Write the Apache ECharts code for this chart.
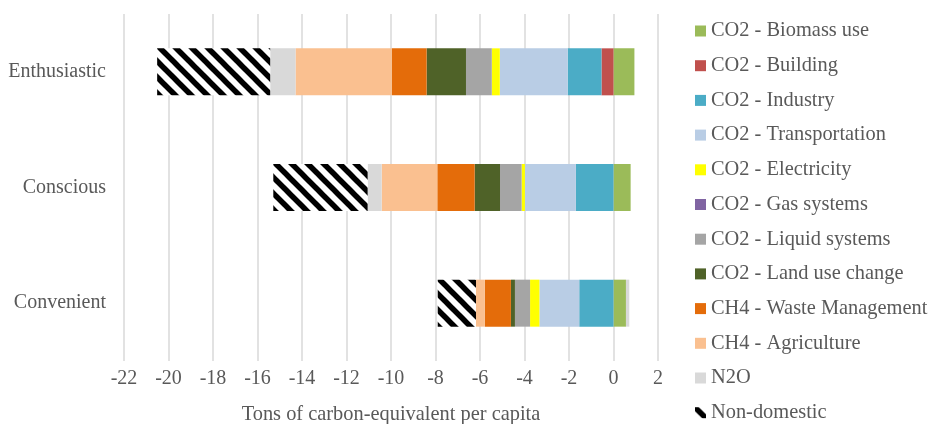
<!DOCTYPE html>
<html>
<head>
<meta charset="utf-8">
<script src="https://cdn.jsdelivr.net/npm/echarts@6/dist/echarts.min.js"></script>
<style>html,body{margin:0;padding:0;background:#fff}#c{width:937px;height:424px}</style>
</head>
<body>
<div id="c"></div>
<script>
const categories = ['Enthusiastic', 'Conscious', 'Convenient'];
const seriesNames = ['CO2 - Biomass use', 'CO2 - Building', 'CO2 - Industry', 'CO2 - Transportation',
  'CO2 - Electricity', 'CO2 - Gas systems', 'CO2 - Liquid systems', 'CO2 - Land use change',
  'CH4 - Waste Management', 'CH4 - Agriculture', 'N2O', 'Non-domestic'];
const biomass = [0.94, 0.77, 0.56];
const building = [-0.54, 0, 0];
const industry = [-1.52, -1.69, -1.54];
const transportation = [-3.05, -2.29, -1.79];
const electricity = [-0.36, -0.15, -0.42];
const gasSystems = [0, 0, 0];
const liquidSystems = [-1.16, -0.97, -0.68];
const landUse = [-1.77, -1.14, -0.18];
const waste = [-1.56, -1.68, -1.17];
const agriculture = [-4.33, -2.50, -0.40];
const n2o = [-1.14, -0.63, 0.15];
const nonDomestic = [-5.08, -4.24, -1.72];
const xTicks = { min: -22, max: 2, interval: 2 };

const seriesData = [biomass, building, industry, transportation, electricity, gasSystems,
  liquidSystems, landUse, waste, agriculture, n2o, nonDomestic];
const colors = ['#9BBB59', '#C0504D', '#4BACC6', '#B9CDE5', '#FFFF00', '#8064A2',
  '#A5A5A5', '#4F6228', '#E46C0A', '#FAC090', '#D9D9D9', null];

// diagonal stripe pattern
const tile = document.createElement('canvas');
tile.width = 16; tile.height = 16;
const g = tile.getContext('2d');
g.fillStyle = '#fff'; g.fillRect(0, 0, 16, 16);
g.strokeStyle = '#000'; g.lineWidth = 5.5;
for (let k = -2; k <= 2; k++) {
  g.beginPath();
  g.moveTo(k * 16 - 8, -8);
  g.lineTo(k * 16 + 24, 24);
  g.stroke();
}
const stripe = { image: tile, repeat: 'repeat' };

const font = 'Liberation Serif';
const txt = '#595959';

const chart = echarts.init(document.getElementById('c'), null, { renderer: 'canvas' });
chart.setOption({
  animation: false,
  textStyle: { fontFamily: font },
  grid: { left: 124, top: 14, width: 534, height: 347, containLabel: false, outerBoundsMode: 'none' },
  legend: {
    type: 'plain', orient: 'vertical', left: 695, top: 21, padding: 0, height: 404,
    itemWidth: 11, itemHeight: 11, itemGap: 14.7, icon: 'rect',
    textStyle: { fontFamily: font, fontSize: 20.4, color: txt, lineHeight: 20 },
    data: seriesNames
  },
  xAxis: {
    type: 'value', min: xTicks.min, max: xTicks.max, interval: xTicks.interval,
    axisLine: { show: false }, axisTick: { show: false },
    splitLine: { show: true, lineStyle: { color: '#D9D9D9', width: 1.5 } },
    axisLabel: { fontFamily: font, fontSize: 20, color: txt, margin: 8 },
    name: 'Tons of carbon-equivalent per capita', nameLocation: 'middle', nameGap: 44,
    nameTextStyle: { fontFamily: font, fontSize: 20.4, color: txt }
  },
  yAxis: {
    type: 'category', data: categories, inverse: true,
    axisLine: { show: false }, axisTick: { show: false },
    axisLabel: { fontFamily: font, fontSize: 20, color: txt, margin: 18 }
  },
  series: seriesNames.map((n, i) => ({
    name: n, type: 'bar', stack: 'total', barWidth: 47,
    data: seriesData[i],
    itemStyle: { color: colors[i] || stripe },
    emphasis: { disabled: true }
  }))
});
</script>
</body>
</html>
